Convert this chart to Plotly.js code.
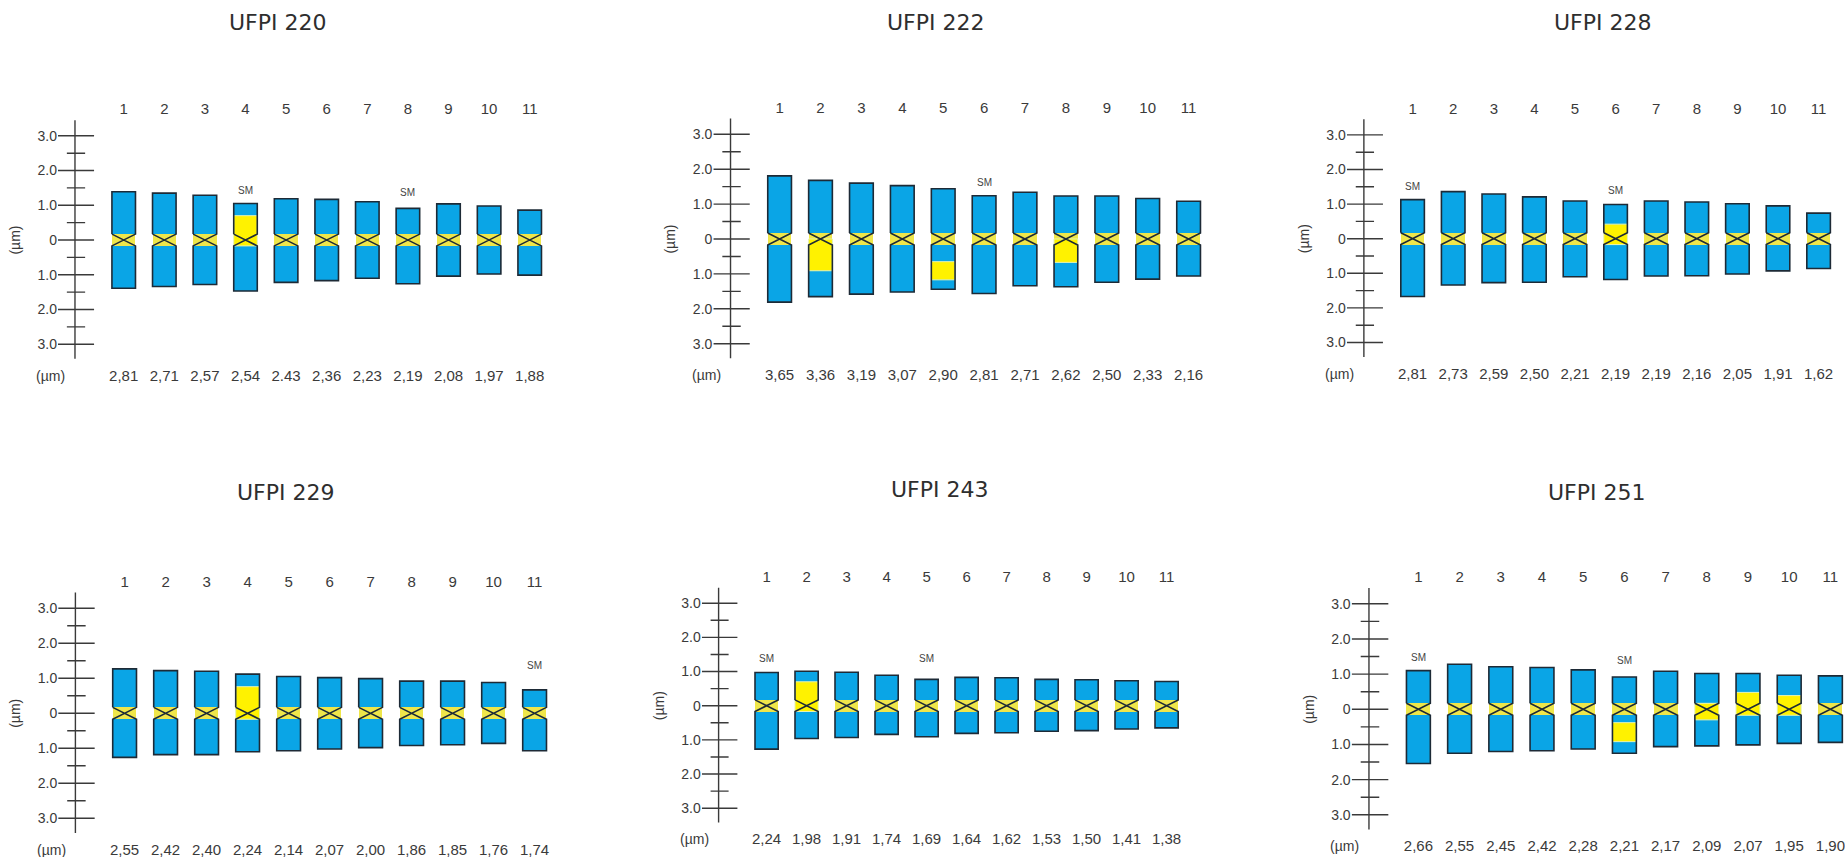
<!DOCTYPE html>
<html>
<head>
<meta charset="utf-8">
<script src="https://cdn.plot.ly/plotly-3.0.1.min.js"></script>
<style>html,body{margin:0;padding:0;background:#fff;}#chart{width:1845px;height:857px;}</style>
</head>
<body>
<div id="chart"></div>
<script>
// ---------------- DATA ----------------
const panelTitles = ['UFPI 220', 'UFPI 222', 'UFPI 228', 'UFPI 229', 'UFPI 243', 'UFPI 251'];
const chromNumbers = ['1', '2', '3', '4', '5', '6', '7', '8', '9', '10', '11'];
const rulerMajor = [3, 2, 1, 0, -1, -2, -3];
const rulerMajorLabels = ['3.0', '2.0', '1.0', '0', '1.0', '2.0', '3.0'];
const rulerMinor = [2.5, 1.5, 0.5, -0.5, -1.5, -2.5];

// arm lengths (µm): p = upper arm, q = lower arm
const ufpi220_p = [1.39, 1.35, 1.29, 1.05, 1.19, 1.17, 1.10, 0.91, 1.04, 0.98, 0.86];
const ufpi220_q = [1.39, 1.34, 1.28, 1.47, 1.22, 1.17, 1.10, 1.26, 1.04, 0.98, 1.01];
const ufpi220_total = ['2,81', '2,71', '2,57', '2,54', '2.43', '2,36', '2,23', '2,19', '2,08', '1,97', '1,88'];
const ufpi220_sm = [4, 8];
const ufpi220_hetChrom = [4];
const ufpi220_hetFrom = [-0.17];
const ufpi220_hetTo = [0.70];

const ufpi222_p = [1.81, 1.68, 1.60, 1.53, 1.44, 1.24, 1.34, 1.23, 1.23, 1.16, 1.08];
const ufpi222_q = [1.81, 1.65, 1.58, 1.52, 1.44, 1.56, 1.34, 1.37, 1.24, 1.15, 1.06];
const ufpi222_total = ['3,65', '3,36', '3,19', '3,07', '2,90', '2,81', '2,71', '2,62', '2,50', '2,33', '2,16'];
const ufpi222_sm = [6];
const ufpi222_hetChrom = [2, 5, 8];
const ufpi222_hetFrom = [0.0, -0.65, 0.0];
const ufpi222_hetTo = [-0.91, -1.17, -0.67];

const ufpi228_p = [1.13, 1.36, 1.29, 1.21, 1.09, 0.99, 1.09, 1.06, 1.01, 0.95, 0.74];
const ufpi228_q = [1.67, 1.34, 1.27, 1.26, 1.10, 1.18, 1.08, 1.07, 1.02, 0.93, 0.86];
const ufpi228_total = ['2,81', '2,73', '2,59', '2,50', '2,21', '2,19', '2,19', '2,16', '2,05', '1,91', '1,62'];
const ufpi228_sm = [1, 6];
const ufpi228_hetChrom = [6];
const ufpi228_hetFrom = [-0.17];
const ufpi228_hetTo = [0.42];

const ufpi229_p = [1.27, 1.22, 1.20, 1.12, 1.05, 1.02, 0.99, 0.92, 0.92, 0.88, 0.67];
const ufpi229_q = [1.26, 1.18, 1.18, 1.10, 1.07, 1.02, 0.98, 0.92, 0.90, 0.86, 1.07];
const ufpi229_total = ['2,55', '2,42', '2,40', '2,24', '2,14', '2,07', '2,00', '1,86', '1,85', '1,76', '1,74'];
const ufpi229_sm = [11];
const ufpi229_hetChrom = [4];
const ufpi229_hetFrom = [-0.17];
const ufpi229_hetTo = [0.76];

const ufpi243_p = [0.97, 1.01, 0.98, 0.89, 0.77, 0.83, 0.82, 0.77, 0.76, 0.73, 0.71];
const ufpi243_q = [1.27, 0.96, 0.93, 0.84, 0.91, 0.81, 0.79, 0.75, 0.73, 0.68, 0.65];
const ufpi243_total = ['2,24', '1,98', '1,91', '1,74', '1,69', '1,64', '1,62', '1,53', '1,50', '1,41', '1,38'];
const ufpi243_sm = [1, 5];
const ufpi243_hetChrom = [2];
const ufpi243_hetFrom = [-0.17];
const ufpi243_hetTo = [0.70];

const ufpi251_p = [1.10, 1.28, 1.21, 1.19, 1.12, 0.92, 1.08, 1.02, 1.02, 0.97, 0.95];
const ufpi251_q = [1.54, 1.25, 1.20, 1.18, 1.13, 1.25, 1.06, 1.04, 1.01, 0.97, 0.94];
const ufpi251_total = ['2,66', '2,55', '2,45', '2,42', '2,28', '2,21', '2,17', '2,09', '2,07', '1,95', '1,90'];
const ufpi251_sm = [1, 6];
const ufpi251_hetChrom = [6, 8, 9, 10];
const ufpi251_hetFrom = [-0.38, 0.17, -0.17, -0.17];
const ufpi251_hetTo = [-0.92, -0.30, 0.48, 0.39];

// ---------------- LAYOUT GEOMETRY (pixels) ----------------
const W = 1845, H = 857;
const geom = [
  {c1: 123.7, sp: 40.6, z: 240.0, u: 34.73, tx: 278, ty: 23},
  {c1: 779.6, sp: 40.9, z: 239.0, u: 34.9, tx: 935.7, ty: 23},
  {c1: 1412.6, sp: 40.6, z: 238.7, u: 34.6, tx: 1602.5, ty: 23},
  {c1: 124.6, sp: 41.0, z: 713.3, u: 35.0, tx: 285.7, ty: 492},
  {c1: 766.6, sp: 40.0, z: 705.7, u: 34.17, tx: 939.6, ty: 489},
  {c1: 1418.4, sp: 41.2, z: 709.3, u: 35.17, tx: 1597, ty: 492}
];
const X_LEFT = -0.62, X_RIGHT = 11.6, Y_HALF = 3.5, RULER_X = -0.2;
const CEN = 0.17, CW = 0.58;
const BLUE = '#0aa5e6', YELLOW = '#fff200', BAND = '#efe64a', OUTLINE = '#1d2a36', TXT = '#3a3a3a';
const FONT = 'Liberation Sans, Arial, sans-serif';
const TITLE_FONT = 'DejaVu Sans, Liberation Sans, sans-serif';

const panels = [
  {p: ufpi220_p, q: ufpi220_q, total: ufpi220_total, sm: ufpi220_sm, hc: ufpi220_hetChrom, hf: ufpi220_hetFrom, ht: ufpi220_hetTo},
  {p: ufpi222_p, q: ufpi222_q, total: ufpi222_total, sm: ufpi222_sm, hc: ufpi222_hetChrom, hf: ufpi222_hetFrom, ht: ufpi222_hetTo},
  {p: ufpi228_p, q: ufpi228_q, total: ufpi228_total, sm: ufpi228_sm, hc: ufpi228_hetChrom, hf: ufpi228_hetFrom, ht: ufpi228_hetTo},
  {p: ufpi229_p, q: ufpi229_q, total: ufpi229_total, sm: ufpi229_sm, hc: ufpi229_hetChrom, hf: ufpi229_hetFrom, ht: ufpi229_hetTo},
  {p: ufpi243_p, q: ufpi243_q, total: ufpi243_total, sm: ufpi243_sm, hc: ufpi243_hetChrom, hf: ufpi243_hetFrom, ht: ufpi243_hetTo},
  {p: ufpi251_p, q: ufpi251_q, total: ufpi251_total, sm: ufpi251_sm, hc: ufpi251_hetChrom, hf: ufpi251_hetFrom, ht: ufpi251_hetTo}
];

const traces = [];
const layout = {
  width: W, height: H, margin: {l: 0, r: 0, t: 0, b: 0},
  paper_bgcolor: '#ffffff', plot_bgcolor: 'rgba(0,0,0,0)',
  showlegend: false, barmode: 'overlay', bargap: 0,
  font: {family: FONT, color: TXT},
  annotations: []
};

panels.forEach((d, i) => {
  const g = geom[i];
  const k = i + 1;
  const xa = k === 1 ? 'x' : 'x' + k;
  const ya = k === 1 ? 'y' : 'y' + k;
  const xt = 'x' + (k + 6);
  const idx = chromNumbers.map((_, j) => j + 1);

  const pxLeft = g.c1 + (X_LEFT - 1) * g.sp;
  const pxRight = Math.min(W, g.c1 + (X_RIGHT - 1) * g.sp);
  const xr = [X_LEFT, 1 + (pxRight - g.c1) / g.sp];
  const pxTop = g.z - Y_HALF * g.u, pxBot = g.z + Y_HALF * g.u;
  const xdom = [pxLeft / W, pxRight / W];
  const ydom = [1 - pxBot / H, 1 - pxTop / H];

  const common = {xaxis: xa, yaxis: ya, hoverinfo: 'skip', showlegend: false};
  // upper arms
  traces.push(Object.assign({type: 'bar', x: idx, base: d.p.map(() => CEN), y: d.p.map(v => v - CEN),
    width: CW, marker: {color: BLUE, line: {width: 0}}}, common));
  // lower arms
  traces.push(Object.assign({type: 'bar', x: idx, base: d.q.map(() => -CEN), y: d.q.map(v => -(v - CEN)),
    width: CW, marker: {color: BLUE, line: {width: 0}}}, common));
  // centromere band
  traces.push(Object.assign({type: 'bar', x: idx, base: idx.map(() => -CEN), y: idx.map(() => 2 * CEN),
    width: CW, marker: {color: BAND, line: {width: 0}}}, common));
  // heterochromatin blocks
  traces.push(Object.assign({type: 'bar', x: d.hc, base: d.hf, y: d.ht.map((t, j) => t - d.hf[j]),
    width: CW, marker: {color: YELLOW, line: {width: 1, color: '#e4f3b4'}}}, common));
  // outlines with centromere cross
  const ox = [], oy = [];
  idx.forEach((c, j) => {
    const x0 = c - CW / 2, x1 = c + CW / 2, p = d.p[j], q = d.q[j];
    ox.push(x0, x0, x1, x1, x0, x0, x1, x1, x0, null);
    oy.push(CEN, p, p, CEN, -CEN, -q, -q, -CEN, CEN, null);
  });
  traces.push(Object.assign({type: 'scatter', mode: 'lines', x: ox, y: oy,
    line: {color: OUTLINE, width: 1.6}, cliponaxis: false}, common));
  // ruler
  const rx = [RULER_X, RULER_X, null], ry = [-3.42, 3.45, null];
  rulerMajor.forEach(t => { rx.push(X_LEFT, 0.27, null); ry.push(t, t, null); });
  rulerMinor.forEach(t => { rx.push(-0.40, 0.05, null); ry.push(t, t, null); });
  traces.push(Object.assign({type: 'scatter', mode: 'lines', x: rx, y: ry,
    line: {color: '#3a3a3a', width: 1.4}, cliponaxis: false}, common));

  layout['xaxis' + (k === 1 ? '' : k)] = {
    domain: xdom, range: xr, anchor: ya, fixedrange: true,
    showgrid: false, zeroline: false, showline: false, ticks: '',
    tickmode: 'array', tickvals: idx, ticktext: d.total, ticklabelstandoff: 3,
    tickfont: {size: 15, color: TXT, family: FONT}
  };
  layout['xaxis' + (k + 6)] = {
    overlaying: xa, side: 'top', anchor: ya, range: xr, fixedrange: true,
    showgrid: false, zeroline: false, showline: false, ticks: '',
    tickmode: 'array', tickvals: idx, ticktext: chromNumbers,
    tickfont: {size: 15, color: TXT, family: FONT}
  };
  layout['yaxis' + (k === 1 ? '' : k)] = {
    domain: ydom, range: [-Y_HALF, Y_HALF], anchor: xa, fixedrange: true,
    showgrid: false, zeroline: false, showline: false, ticks: '',
    tickmode: 'array', tickvals: rulerMajor, ticktext: rulerMajorLabels,
    tickfont: {size: 14, color: TXT, family: FONT},
    title: {text: '(µm)', font: {size: 14, color: TXT, family: FONT}}
  };
  // invisible trace so the top axis is active
  traces.push({type: 'scatter', mode: 'none', x: [1, 11], y: [0, 0], xaxis: xt, yaxis: ya, hoverinfo: 'skip', showlegend: false});

  // title
  layout.annotations.push({xref: 'paper', yref: 'paper', x: g.tx / W, y: 1 - g.ty / H,
    xanchor: 'center', yanchor: 'middle', showarrow: false, text: panelTitles[i],
    font: {size: 22, color: '#2e2e2e', family: TITLE_FONT}});
  // unit label under the ruler
  const rulerPx = g.c1 + (RULER_X - 1) * g.sp;
  layout.annotations.push({xref: 'paper', yref: 'paper', x: (rulerPx - 24) / W, y: 1 - (pxBot + 14) / H,
    xanchor: 'center', yanchor: 'middle', showarrow: false, text: '(µm)',
    font: {size: 14, color: TXT, family: FONT}});
  // SM labels
  d.sm.forEach(c => {
    layout.annotations.push({xref: xa, yref: ya, x: c, y: Math.max(1.38, d.p[c - 1] + 0.38),
      xanchor: 'center', yanchor: 'middle', showarrow: false, text: 'SM',
      font: {size: 10, color: '#444', family: FONT}});
  });
});

Plotly.newPlot('chart', traces, layout, {staticPlot: true, displayModeBar: false});
</script>
</body>
</html>
